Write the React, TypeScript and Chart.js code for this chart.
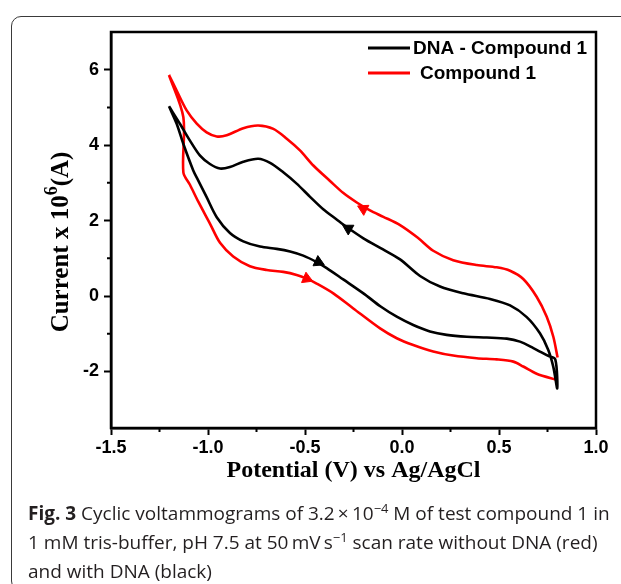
import React, { useEffect, useRef } from "react";
import { Chart, registerables } from "chart.js";

Chart.register(...registerables);

// ---- data ----
const seriesLabels = ["DNA - Compound 1", "Compound 1"];
const seriesColors = ["#000000", "#ff0000"];

// DNA - Compound 1 (black): lower branch left->right, then upper branch right->left
const dnaPotential = [
  -1.201, -1.161, -1.127, -1.076, -1.05, -1.007, -0.955, -0.887, -0.818, -0.732,
  -0.646, -0.577, -0.509, -0.44, -0.388, -0.303, -0.199, -0.11, -0.027, 0.058,
  0.144, 0.23, 0.334, 0.437, 0.54, 0.608, 0.677, 0.754, 0.79, 0.8,
  0.78, 0.754, 0.711, 0.643, 0.557, 0.454, 0.316, 0.196, 0.093, -0.01,
  -0.1, -0.199, -0.285, -0.337, -0.406, -0.474, -0.543, -0.612, -0.68, -0.741,
  -0.818, -0.887, -0.938, -0.99, -1.041, -1.093, -1.144, -1.201,
];
const dnaCurrent = [
  5.03, 4.56, 4.03, 3.33, 3.06, 2.62, 2.09, 1.67, 1.45, 1.31,
  1.25, 1.18, 1.07, 0.9, 0.74, 0.44, 0.07, -0.28, -0.55, -0.77,
  -0.94, -1.03, -1.08, -1.1, -1.13, -1.21, -1.38, -1.59, -1.68, -2.45,
  -1.88, -1.43, -0.99, -0.56, -0.25, -0.08, 0.07, 0.25, 0.53, 0.97,
  1.24, 1.53, 1.83, 2.03, 2.3, 2.63, 2.98, 3.28, 3.53, 3.64,
  3.56, 3.42, 3.38, 3.5, 3.72, 4.12, 4.56, 5.03,
];

// Compound 1 (red): lower branch left->right, gap, upper branch right->left
const compoundPotential = [
  -1.201, -1.127, -1.127, -1.093, -1.05, -0.99, -0.938, -0.87, -0.784, -0.697,
  -0.612, -0.543, -0.491, -0.44, -0.354, -0.251, -0.113, -0.027, 0.058, 0.161,
  0.264, 0.385, 0.488, 0.574, 0.625, 0.694, 0.802,
  0.802,
  0.802, 0.78, 0.746, 0.694, 0.625, 0.557, 0.488, 0.385, 0.264, 0.161,
  0.08, -0.01, -0.096, -0.165, -0.233, -0.302, -0.371, -0.457, -0.526, -0.594,
  -0.663, -0.741, -0.818, -0.904, -0.955, -1.007, -1.058, -1.11, -1.161, -1.201,
];
const compoundCurrent = [
  5.86, 4.74, 3.28, 2.95, 2.5, 1.92, 1.41, 1.05, 0.79, 0.69,
  0.64, 0.56, 0.46, 0.33, 0.07, -0.33, -0.86, -1.12, -1.3, -1.47,
  -1.58, -1.65, -1.68, -1.74, -1.87, -2.06, -2.23,
  null,
  -1.63, -1.08, -0.55, -0.02, 0.45, 0.67, 0.76, 0.82, 0.95, 1.2,
  1.55, 1.88, 2.1, 2.27, 2.48, 2.73, 3.05, 3.46, 3.86, 4.17,
  4.43, 4.52, 4.45, 4.26, 4.23, 4.34, 4.57, 4.92, 5.44, 5.86,
];

// scan-direction arrows
const arrowPotential = [-0.277, -0.431, -0.199, -0.491];
const arrowCurrent = [1.79, 0.9, 2.31, 0.46];
const arrowAngle = [300, 115, 297, 113];
const arrowSeries = [0, 0, 1, 1];

// axes
const xMin = -1.5, xMax = 1.0, xStep = 0.25;
const yMin = -3.5, yMax = 7, yStep = 1;
const xTitle = "Potential (V) vs Ag/AgCl";
const yTitleMain = "Current x 10";
const yTitleSup = "6";
const yTitleEnd = "(A)";

const near = (a: number, b: number) => Math.abs(a - b) < 1e-6;
const isMajorX = (v: number) => near(v * 2, Math.round(v * 2));
const isMajorY = (v: number) => near(v, Math.round(v)) && Math.round(v) % 2 === 0;
const isMinorY = (v: number) => near(v, Math.round(v)) && Math.abs(Math.round(v)) % 2 === 1;

const TICK_FONT = { family: "'Liberation Sans', Arial, sans-serif", weight: "bold" as const, size: 18 };

const decorPlugin = {
  id: "decor",
  afterDraw(chart: any) {
    const { ctx, chartArea: a, scales } = chart;
    const xs = scales.x, ys = scales.y;
    ctx.save();
    // frame
    ctx.strokeStyle = "#000";
    ctx.lineWidth = 2.5;
    ctx.strokeRect(a.left, a.top, a.right - a.left, a.bottom - a.top);
    // minor ticks
    ctx.lineWidth = 2;
    ctx.beginPath();
    xs.ticks.forEach((t: any) => {
      if (!isMajorX(t.value) && t.value > xMin && t.value < xMax) {
        const px = xs.getPixelForValue(t.value);
        ctx.moveTo(px, a.bottom);
        ctx.lineTo(px, a.bottom + 4);
      }
    });
    ys.ticks.forEach((t: any) => {
      if (isMinorY(t.value) && t.value > yMin && t.value < yMax) {
        const py = ys.getPixelForValue(t.value);
        ctx.moveTo(a.left, py);
        ctx.lineTo(a.left - 4, py);
      }
    });
    ctx.stroke();

    // axis titles
    ctx.fillStyle = "#000";
    const serif = "'Liberation Serif', 'Times New Roman', serif";
    ctx.font = `bold 24px ${serif}`;
    ctx.textAlign = "center";
    ctx.textBaseline = "alphabetic";
    ctx.fillText(xTitle, (a.left + a.right) / 2, a.bottom + 49);

    ctx.save();
    ctx.translate(a.left - 43, 242);
    ctx.rotate(-Math.PI / 2);
    ctx.textBaseline = "alphabetic";
    ctx.textAlign = "left";
    ctx.font = `bold 25px ${serif}`;
    const w1 = ctx.measureText(yTitleMain).width;
    const w3 = ctx.measureText(yTitleEnd).width;
    ctx.font = `bold 18px ${serif}`;
    const w2 = ctx.measureText(yTitleSup).width;
    const total = w1 + w2 + w3;
    const x0 = -total / 2;
    ctx.font = `bold 25px ${serif}`;
    ctx.fillText(yTitleMain, x0, 0);
    ctx.font = `bold 18px ${serif}`;
    ctx.fillText(yTitleSup, x0 + w1, -11);
    ctx.font = `bold 25px ${serif}`;
    ctx.fillText(yTitleEnd, x0 + w1 + w2, 0);
    ctx.restore();

    // legend
    const lx0 = a.right - 228, lx1 = a.right - 186;
    const rows = [a.top + 16, a.top + 41];
    const textX = [a.right - 183, a.right - 176];
    ctx.font = "bold 19px 'Liberation Sans', Arial, sans-serif";
    ctx.textAlign = "left";
    ctx.textBaseline = "middle";
    for (let i = 0; i < 2; i++) {
      const ds = chart.data.datasets[i];
      ctx.strokeStyle = ds.borderColor;
      ctx.lineWidth = 3;
      ctx.beginPath();
      ctx.moveTo(lx0, rows[i]);
      ctx.lineTo(lx1, rows[i]);
      ctx.stroke();
      ctx.fillStyle = "#000";
      ctx.fillText(ds.label, textX[i], rows[i] + 1);
    }
    ctx.restore();
  },
};

function ChartCanvas() {
  const ref = useRef<HTMLCanvasElement | null>(null);
  useEffect(() => {
    if (!ref.current) return;
    const dnaData = dnaPotential.map((x, i) => ({ x, y: dnaCurrent[i] }));
    const cmpData = compoundPotential.map((x, i) => ({ x, y: compoundCurrent[i] }));
    const arrowData = arrowPotential.map((x, i) => ({ x, y: arrowCurrent[i] }));
    const chart = new Chart(ref.current, {
      type: "scatter",
      data: {
        datasets: [
          {
            label: seriesLabels[0],
            data: dnaData as any,
            showLine: true,
            borderColor: seriesColors[0],
            borderWidth: 2.6,
            pointRadius: 0,
            tension: 0.3,
            spanGaps: false,
          },
          {
            label: seriesLabels[1],
            data: cmpData as any,
            showLine: true,
            borderColor: seriesColors[1],
            borderWidth: 2.6,
            pointRadius: 0,
            tension: 0.3,
            spanGaps: false,
          },
          {
            label: "arrows",
            data: arrowData as any,
            showLine: false,
            pointStyle: "triangle",
            pointRadius: 6.5,
            rotation: arrowAngle,
            backgroundColor: arrowSeries.map((s) => seriesColors[s]),
            borderColor: arrowSeries.map((s) => seriesColors[s]),
            borderWidth: 1,
          } as any,
        ],
      },
      options: {
        responsive: false,
        animation: false,
        events: [],
        layout: { padding: { left: 0, right: 25, top: 32, bottom: 0 } },
        plugins: { legend: { display: false }, tooltip: { enabled: false }, title: { display: false } },
        scales: {
          x: {
            type: "linear",
            min: xMin,
            max: xMax,
            afterFit: (s: any) => { s.height = 72; },
            border: { display: true, color: "#000", width: 2.5 },
            grid: {
              display: true,
              drawOnChartArea: false,
              drawTicks: true,
              tickLength: 7,
              tickWidth: 2,
              color: "rgba(0,0,0,0)",
              tickColor: (c: any) => (c.tick && isMajorX(c.tick.value) ? "#000" : "rgba(0,0,0,0)"),
            },
            ticks: {
              stepSize: xStep,
              autoSkip: false,
              maxRotation: 0,
              padding: 2,
              color: "#000",
              font: TICK_FONT,
              callback: (v: any) => (isMajorX(Number(v)) ? Number(v).toFixed(1) : ""),
            },
          },
          y: {
            type: "linear",
            min: yMin,
            max: yMax,
            afterFit: (s: any) => { s.width = 111; },
            border: { display: true, color: "#000", width: 2.5 },
            grid: {
              display: true,
              drawOnChartArea: false,
              drawTicks: true,
              tickLength: 7,
              tickWidth: 2,
              color: "rgba(0,0,0,0)",
              tickColor: (c: any) => (c.tick && isMajorY(c.tick.value) ? "#000" : "rgba(0,0,0,0)"),
            },
            ticks: {
              stepSize: yStep,
              autoSkip: false,
              padding: 5,
              color: "#000",
              font: TICK_FONT,
              callback: (v: any) => (isMajorY(Number(v)) ? String(Math.round(Number(v))) : ""),
            },
          },
        },
      },
      plugins: [decorPlugin],
    });
    return () => chart.destroy();
  }, []);
  return <canvas ref={ref} width={621} height={500} style={{ position: "absolute", left: 0, top: 0, width: 621, height: 500 }} />;
}

const supStyle: React.CSSProperties = { fontSize: "0.68em", position: "relative", top: "-0.55em", verticalAlign: "baseline", lineHeight: 0 };

export default function App() {
  return (
    <div style={{ position: "relative", width: 621, height: 584, overflow: "hidden", background: "#fff" }}>
      <style>{`body{margin:0;}`}</style>
      <div
        style={{
          position: "absolute",
          left: 11,
          top: 16,
          width: 640,
          height: 575,
          border: "1.5px solid #3a3a3a",
          borderRadius: 10,
          boxSizing: "border-box",
        }}
      />
      <ChartCanvas />
      <div
        style={{
          position: "absolute",
          left: 28,
          top: 499,
          fontFamily: "'Open Sans', 'Noto Sans', sans-serif",
          fontSize: 19,
          lineHeight: "29px",
          color: "#231f20",
          whiteSpace: "nowrap",
        }}
      >
        <b>Fig. 3</b> Cyclic voltammograms of 3.2{"\u2009"}×{"\u2009"}10<span style={supStyle}>−4</span> M of test compound 1 in
        <br />1 mM tris-buffer, pH 7.5 at 50{"\u2009"}mV{"\u2009"}s<span style={supStyle}>−1</span> scan rate without DNA (red)
        <br />and with DNA (black)
      </div>
    </div>
  );
}
